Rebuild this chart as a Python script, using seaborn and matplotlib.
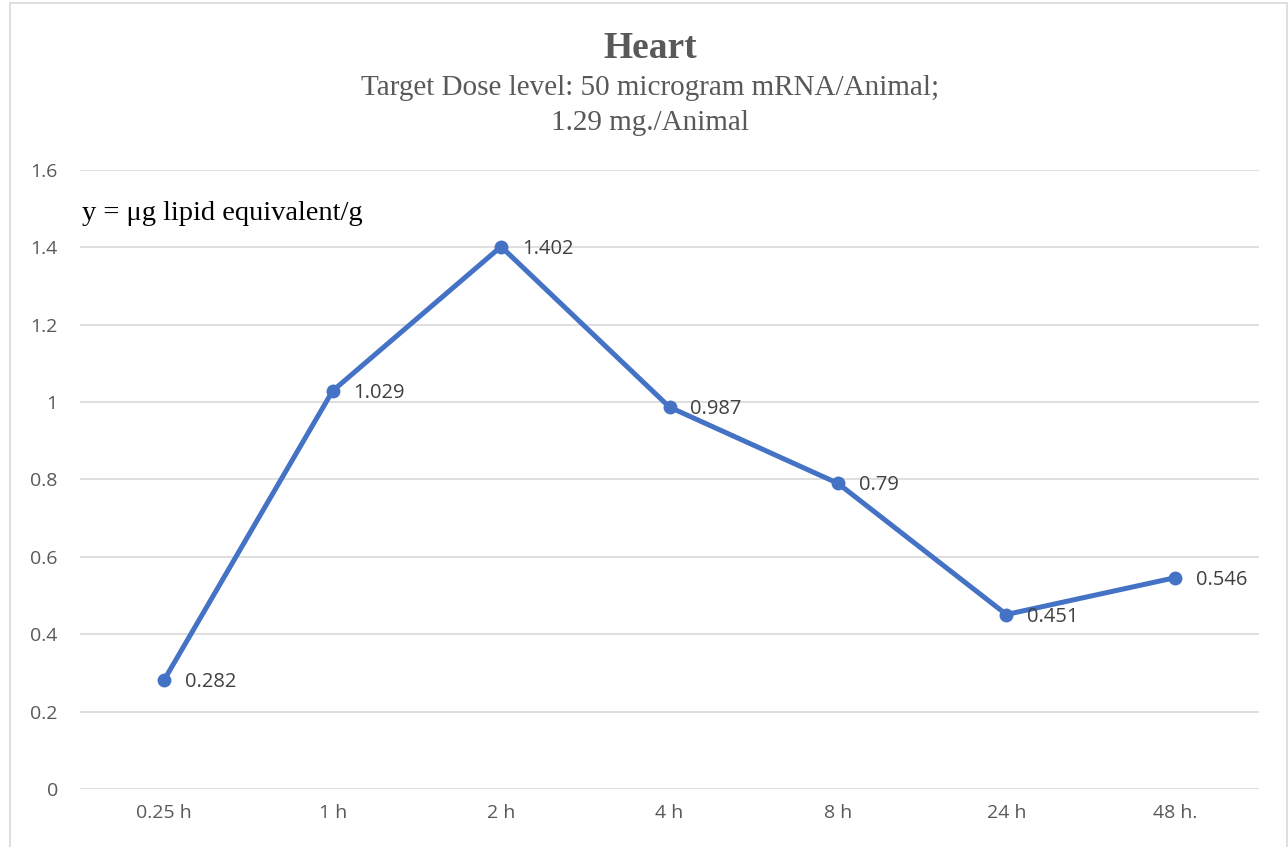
import matplotlib.pyplot as plt
import seaborn as sns
from matplotlib.patches import Rectangle
from matplotlib.ticker import FuncFormatter

sns.set_theme(style="white")
plt.rcParams['font.family'] = ['Open Sans', 'DejaVu Sans']

# Data
time_points = ['0.25 h', '1 h', '2 h', '4 h', '8 h', '24 h', '48 h.']
concentration = [0.282, 1.029, 1.402, 0.987, 0.79, 0.451, 0.546]
value_labels = ['0.282', '1.029', '1.402', '0.987', '0.79', '0.451', '0.546']

line_color = '#4472C4'
text_gray = '#595959'

fig = plt.figure(figsize=(12.88, 8.47), dpi=100)
ax = fig.add_axes([0.0621, 0.0685, 0.9154, 0.7308])

sns.lineplot(x=time_points, y=concentration, ax=ax, color=line_color,
             linewidth=3.6, marker='o', markersize=10, markeredgewidth=0,
             sort=False)

for i, (v, lab) in enumerate(zip(concentration, value_labels)):
    ax.annotate(lab, (i, v), xytext=(15, -1.5), textcoords='offset points',
                ha='left', va='center', fontsize=14.5, color='#404040')

ax.set_xlim(-0.5, 6.5)
ax.set_ylim(0, 1.6)
ax.set_yticks([0, 0.2, 0.4, 0.6, 0.8, 1.0, 1.2, 1.4, 1.6])
ax.yaxis.set_major_formatter(FuncFormatter(lambda v, p: f"{v:g}"))
ax.grid(axis='y', color='#D9D9D9', linewidth=1.2)
ax.grid(axis='x', visible=False)
ax.set_axisbelow(True)
for s in ax.spines.values():
    s.set_visible(False)
ax.tick_params(axis='both', length=0, labelsize=14, labelcolor=text_gray)
ax.tick_params(axis='y', pad=16)
ax.tick_params(axis='x', pad=11)
ax.set_xlabel('')
ax.set_ylabel('')

# Titles
fig.text(0.505, 1 - 48 / 847, 'Heart', ha='center', va='center',
         fontsize=27, fontweight='bold', color=text_gray,
         family=['Liberation Serif'])
fig.text(0.505, 1 - 88 / 847, 'Target Dose level: 50 microgram mRNA/Animal;',
         ha='center', va='center', fontsize=21, color=text_gray,
         family=['Liberation Serif'])
fig.text(0.505, 1 - 123 / 847, '1.29 mg./Animal', ha='center', va='center',
         fontsize=21, color=text_gray, family=['Liberation Serif'])

fig.text(82 / 1288, 1 - 213 / 847, 'y = \u03bcg lipid equivalent/g', ha='left',
         va='center', fontsize=20.5, color='#000000',
         family=['Liberation Serif'])

# Chart border
fig.patches.append(Rectangle((10 / 1288, -0.01), 1277 / 1288, 1 - 3 / 847 + 0.01,
                             transform=fig.transFigure, fill=False,
                             edgecolor='#D9D9D9', linewidth=1.2))

plt.savefig('out.png', dpi=100)
